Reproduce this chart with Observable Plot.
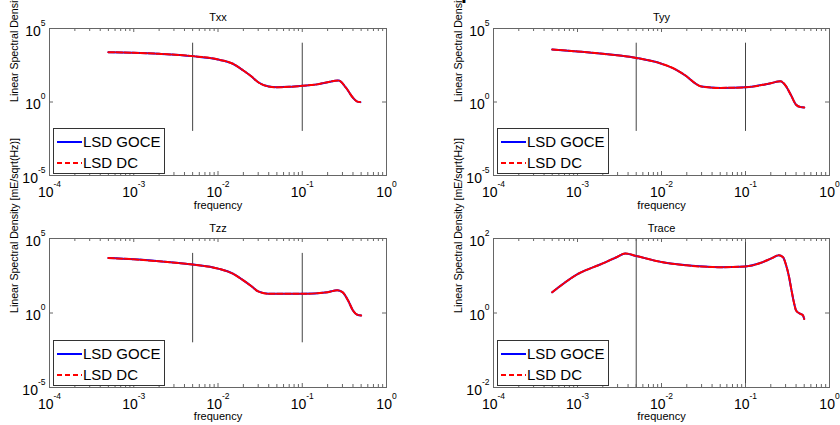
<!DOCTYPE html>
<html><head><meta charset="utf-8">
<script src="https://cdn.jsdelivr.net/npm/d3@7"></script>
<script src="https://cdn.jsdelivr.net/npm/@observablehq/plot@0.6"></script>
<style>
body{margin:0;background:#fff;width:840px;height:425px;overflow:hidden;position:relative;font-family:"Liberation Sans",Arial,sans-serif;}
.panel{position:absolute;}
#title{position:absolute;left:0;width:816px;text-align:center;top:-19px;font:bold 21px/21px "Liberation Sans",Arial,sans-serif;z-index:5;white-space:nowrap;}
.legend{position:absolute;z-index:4;}
</style></head><body>
<div id="title">The GOCE and DC tensor spectral densities</div>
<script>
// ---------- data ----------
const panelTitles = ["Txx", "Tyy", "Tzz", "Trace"];
const seriesNames = ["LSD GOCE", "LSD DC"];
const xLabel = "frequency";
const yLabel = "Linear Spectral Density [mE/sqrt(Hz)]";

const freqTxx = [5e-4, 1e-3, 2e-3, 5e-3, 1e-2, 1.5e-2, 2e-2, 2.5e-2, 3e-2, 4e-2, 5e-2, 7e-2, 1e-1, 1.5e-1, 2e-1, 2.7e-1, 3.3e-1, 4e-1, 4.5e-1, 4.9e-1];
const goceTxx = [2450, 2240, 1900, 1320, 780, 400, 138, 54, 22, 11.2, 10, 10.7, 12.6, 15.8, 22.4, 28.8, 9.5, 1.95, 1.07, 0.98];
const dcTxx   = [2450, 2240, 1900, 1320, 780, 400, 138, 54, 22, 11.2, 10, 10.7, 12.6, 15.8, 22.4, 28.8, 9.5, 1.95, 1.07, 0.98];

const freqTyy = [5e-4, 1e-3, 2e-3, 5e-3, 1e-2, 1.5e-2, 2e-2, 2.5e-2, 3e-2, 5e-2, 1e-1, 2e-1, 2.6e-1, 3e-1, 3.5e-1, 4e-1, 4.5e-1, 5e-1];
const goceTyy = [3700, 2750, 1900, 1000, 400, 155, 54, 19, 11.2, 9.1, 10, 19, 26, 13.2, 2.75, 0.65, 0.45, 0.43];
const dcTyy   = [3700, 2750, 1900, 1000, 400, 155, 54, 19, 11.2, 9.1, 10, 19, 26, 13.2, 2.75, 0.65, 0.45, 0.43];

const freqTzz = [5e-4, 1e-3, 2e-3, 5e-3, 1e-2, 1.5e-2, 2e-2, 2.5e-2, 3e-2, 4e-2, 1e-1, 2e-1, 2.6e-1, 3e-1, 3.5e-1, 4e-1, 4.5e-1, 5e-1];
const goceTzz = [4900, 4000, 2950, 1780, 955, 437, 155, 62, 28, 19.5, 19.5, 25, 33, 25, 6.9, 1.48, 0.76, 0.68];
const dcTzz   = [4900, 4000, 2950, 1780, 955, 437, 155, 62, 28, 19.5, 19.5, 25, 33, 25, 6.9, 1.48, 0.76, 0.68];

const freqTrace = [5e-4, 1e-3, 2e-3, 3e-3, 3.7e-3, 5e-3, 1e-2, 2e-2, 5e-2, 1e-1, 1.5e-1, 2e-1, 2.5e-1, 2.8e-1, 3e-1, 3.3e-1, 3.5e-1, 3.8e-1, 4e-1, 4.5e-1, 4.8e-1, 5e-1];
const goceTrace = [3.6, 11, 21.4, 32.4, 39.8, 33.9, 23.4, 19, 17, 17.8, 21.9, 28.8, 35.5, 31.6, 21.4, 9.3, 4.5, 1.78, 1.17, 0.95, 0.89, 0.69];
const dcTrace   = [3.6, 11, 21.4, 32.4, 39.8, 33.9, 23.4, 19, 17, 17.8, 21.9, 28.8, 35.5, 31.6, 21.4, 9.3, 4.5, 1.78, 1.17, 0.95, 0.89, 0.69];

const xDomain = [1e-4, 1];
const xTicks = [1e-4, 1e-3, 1e-2, 1e-1, 1];
const yDomainTensor = [1e-5, 1e5];
const yTicksTensor = [1e-5, 1, 1e5];
const yDomainTrace = [1e-2, 1e2];
const yTicksTrace = [1e-2, 1, 1e2];
const markerFreqs = [0.005, 0.1];
const markerSpan = [1e-2, 1e4];

// ---------- drawing ----------
const FONT = '"Liberation Sans", Arial, Helvetica, sans-serif';
const minorX = [];
for (let k = -4; k <= -1; k++) for (let m = 2; m <= 9; m++) minorX.push(m * Math.pow(10, k));

const panels = [
  {title: panelTitles[0], freq: freqTxx, goce: goceTxx, dc: dcTxx, yDomain: yDomainTensor, yTicks: yTicksTensor, left: 0,   top: 0,   w: 420, h: 212, ml: 49, mr: 34, mt: 28, mb: 37, tdy: -15.5, fdy: 33},
  {title: panelTitles[1], freq: freqTyy, goce: goceTyy, dc: dcTyy, yDomain: yDomainTensor, yTicks: yTicksTensor, left: 420, top: 0,   w: 420, h: 212, ml: 73, mr: 11, mt: 28, mb: 37, tdy: -15.5, fdy: 33},
  {title: panelTitles[2], freq: freqTzz, goce: goceTzz, dc: dcTzz, yDomain: yDomainTensor, yTicks: yTicksTensor, left: 0,   top: 212, w: 420, h: 213, ml: 49, mr: 34, mt: 26, mb: 38, tdy: -14, fdy: 32},
  {title: panelTitles[3], freq: freqTrace, goce: goceTrace, dc: dcTrace, yDomain: yDomainTrace, yTicks: yTicksTrace, left: 420, top: 212, w: 420, h: 213, ml: 73, mr: 11, mt: 26, mb: 38, tdy: -14, fdy: 32}
];

const fmt = d => "10^" + Math.round(Math.log10(d));
const NS = "http://www.w3.org/2000/svg";

panels.forEach(cfg => {
  const fw = cfg.w - cfg.ml - cfg.mr, fh = cfg.h - cfg.mt - cfg.mb;
  const data = cfg.freq.map((f, i) => ({f, goce: cfg.goce[i], dc: cfg.dc[i]}));
  const tickLen = 4, minorLen = 3;
  const plot = Plot.plot({
    width: cfg.w, height: cfg.h,
    marginLeft: cfg.ml, marginRight: cfg.mr, marginTop: cfg.mt, marginBottom: cfg.mb,
    x: {type: "log", domain: xDomain},
    y: {type: "log", domain: cfg.yDomain},
    style: {fontFamily: FONT, background: "white", color: "black", overflow: "visible"},
    marks: [
      Plot.ruleX(markerFreqs, {x: d => d, y1: markerSpan[0], y2: markerSpan[1], stroke: "#444", strokeWidth: 1, clip: true}),
      Plot.line(data, {x: "f", y: "goce", stroke: "#0000ff", strokeWidth: 2, curve: "monotone-x"}),
      Plot.line(data, {x: "f", y: "dc", stroke: "#ff0000", strokeWidth: 2, strokeDasharray: "6,2", curve: "monotone-x"}),
      // inward ticks
      Plot.tickX(xTicks, {x: d => d, insetTop: fh - tickLen, stroke: "#666"}),
      Plot.tickX(xTicks, {x: d => d, insetBottom: fh - tickLen, stroke: "#666"}),
      Plot.tickX(minorX, {x: d => d, insetTop: fh - minorLen, stroke: "#666"}),
      Plot.tickX(minorX, {x: d => d, insetBottom: fh - minorLen, stroke: "#666"}),
      Plot.tickY(cfg.yTicks, {y: d => d, insetRight: fw - tickLen, stroke: "#666"}),
      Plot.tickY(cfg.yTicks, {y: d => d, insetLeft: fw - tickLen, stroke: "#666"}),
      Plot.frame({stroke: "#666"}),
      Plot.axisX({ticks: xTicks, tickSize: 0, tickPadding: 12, tickFormat: fmt, fontSize: 14, label: null}),
      Plot.axisY({ticks: cfg.yTicks, tickSize: 0, tickPadding: 4, tickFormat: fmt, fontSize: 14, label: null, dy: 3}),
      Plot.text([cfg.title], {frameAnchor: "top", dy: cfg.tdy, fontSize: 11}),
      Plot.text([xLabel], {frameAnchor: "bottom", dy: cfg.fdy, fontSize: 11}),
      Plot.text([yLabel], {frameAnchor: "left", dx: -35, rotate: -90, fontSize: 10.6})
    ]
  });
  // superscript exponents on tick labels
  plot.querySelectorAll("text").forEach(t => {
    const m = /^10\^(-?\d+)$/.exec(t.textContent);
    if (m) {
      t.textContent = "10";
      const ts = document.createElementNS(NS, "tspan");
      ts.setAttribute("font-size", "8.5");
      ts.setAttribute("dy", "-10");
      ts.textContent = m[1];
      t.appendChild(ts);
    }
  });
  const wrap = document.createElement("div");
  wrap.className = "panel";
  wrap.style.left = cfg.left + "px";
  wrap.style.top = cfg.top + "px";
  wrap.appendChild(plot);
  document.body.appendChild(wrap);

  // legend
  const lg = document.createElement("div");
  lg.className = "legend";
  const lw = 111, lh = 45;
  lg.style.left = (cfg.left + cfg.ml + 4) + "px";
  lg.style.top = (cfg.top + cfg.h - cfg.mb - 2 - lh) + "px";
  lg.innerHTML =
    `<svg width="${lw + 1}" height="${lh + 1}" xmlns="${NS}" style="display:block;font-family:${FONT.replace(/"/g, "'")}">
      <rect x="0.5" y="0.5" width="${lw}" height="${lh}" fill="white" stroke="#333"/>
      <line x1="4" x2="29" y1="14" y2="14" stroke="#0000ff" stroke-width="2"/>
      <text x="30" y="14" dy="0.36em" font-size="15">${seriesNames[0]}</text>
      <line x1="4" x2="29" y1="35" y2="35" stroke="#ff0000" stroke-width="2" stroke-dasharray="5,3"/>
      <text x="30" y="35" dy="0.36em" font-size="15">${seriesNames[1]}</text>
    </svg>`;
  document.body.appendChild(lg);
});
</script>
</body></html>
